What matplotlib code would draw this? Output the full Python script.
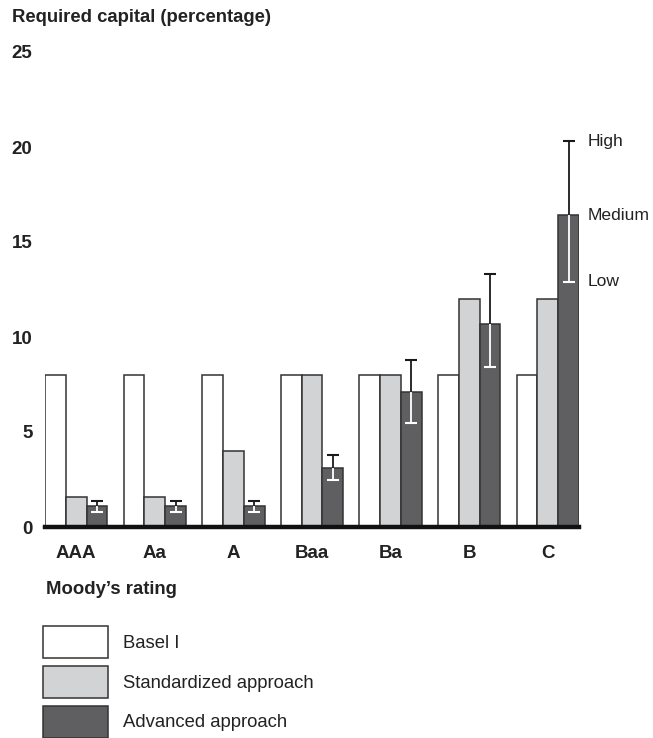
import matplotlib
matplotlib.use("Agg")
import numpy as np
from matplotlib import pyplot as plt
from matplotlib.patches import Patch

plt.rcParams['font.family'] = ['Liberation Sans', 'DejaVu Sans']

# data
categories = ['AAA', 'Aa', 'A', 'Baa', 'Ba', 'B', 'C']
basel1 = [8, 8, 8, 8, 8, 8, 8]
standardized = [1.6, 1.6, 4, 8, 8, 12, 12]
advanced = [1.1, 1.1, 1.1, 3.1, 7.1, 10.7, 16.4]
adv_low = [0.8, 0.8, 0.8, 2.5, 5.5, 8.4, 12.9]
adv_high = [1.35, 1.35, 1.35, 3.8, 8.8, 13.3, 20.3]
series_names = ['Basel I', 'Standardized approach', 'Advanced approach']
yticks = [0, 5, 10, 15, 20, 25]

# colours
WHITE = '#ffffff'
LIGHT = '#d2d3d5'
DARK = '#5f5f61'
EDGE = '#333333'
TXT = '#222222'
FS = 13.3

W, H = 653, 738
fig = plt.figure(figsize=(W / 100, H / 100), dpi=100)

# axes placed in pixel terms: x 45..579, y 0 at 527 and 25 at 52
ax = fig.add_axes([45 / W, (H - 527) / H, 534 / W, (527 - 52) / H])

w = 0.264
x = np.arange(len(categories))
cols = [WHITE, LIGHT, DARK]
for j, vals in enumerate([basel1, standardized, advanced]):
    ax.bar(x + (j - 1) * w, vals, width=w, color=cols[j],
           edgecolor=EDGE, linewidth=1.1, zorder=2)

# error bars on advanced approach: black above bar, white inside
xa = x + w
lo = np.array(adv_low)
hi = np.array(adv_high)
mid = np.array(advanced)
ax.vlines(xa, mid, hi, color='#1a1a1a', linewidth=1.3, zorder=3)
ax.plot(xa, hi, ls='none', marker='_', ms=9, mew=1.5, color='#1a1a1a', zorder=3)
ax.vlines(xa, lo, mid, color='white', linewidth=1.3, zorder=3)
ax.plot(xa, lo, ls='none', marker='_', ms=9, mew=1.5, color='white', zorder=3)

ax.set_xlim(-1.5 * w, len(categories) - 1 + 1.5 * w)
ax.set_ylim(0, 25)

for s in ['top', 'right', 'left']:
    ax.spines[s].set_visible(False)
ax.spines['bottom'].set_linewidth(3.2)
ax.spines['bottom'].set_color('#111111')
ax.spines['bottom'].set_zorder(4)

ax.set_yticks(yticks)
ax.set_yticklabels([str(t) for t in yticks], fontsize=13.5, fontweight='bold',
                   color=TXT)
ax.set_xticks(x)
ax.set_xticklabels(categories, fontsize=13.5, fontweight='bold', color=TXT)
ax.tick_params(axis='y', length=0, pad=9)
ax.tick_params(axis='x', length=0, pad=13)

# high / medium / low labels next to C
xr = len(categories) - 1 + 1.5 * w + 0.11
for val, lab in zip([adv_high[-1], advanced[-1], adv_low[-1]],
                    ['High', 'Medium', 'Low']):
    ax.text(xr, val, lab, va='center', ha='left', fontsize=12.6,
            color=TXT, clip_on=False)

fig.text(12 / W, 1 - 18 / H, 'Required capital (percentage)', fontsize=FS,
         fontweight='bold', va='center', ha='left', color=TXT)
fig.text(46 / W, 1 - 590 / H, 'Moody\u2019s rating', fontsize=FS,
         fontweight='bold', va='center', ha='left', color=TXT)

handles = [Patch(facecolor=c, edgecolor=EDGE, linewidth=1.1) for c in cols]
fig.legend(handles, series_names, loc='upper left',
           bbox_to_anchor=(43 / W, 1 - 626 / H), bbox_transform=fig.transFigure,
           frameon=False, fontsize=FS, handlelength=3.5, handleheight=2.28,
           labelspacing=0.43, handletextpad=0.85, borderpad=0, borderaxespad=0,
           labelcolor=TXT)

fig.savefig('out.png', dpi=100)
